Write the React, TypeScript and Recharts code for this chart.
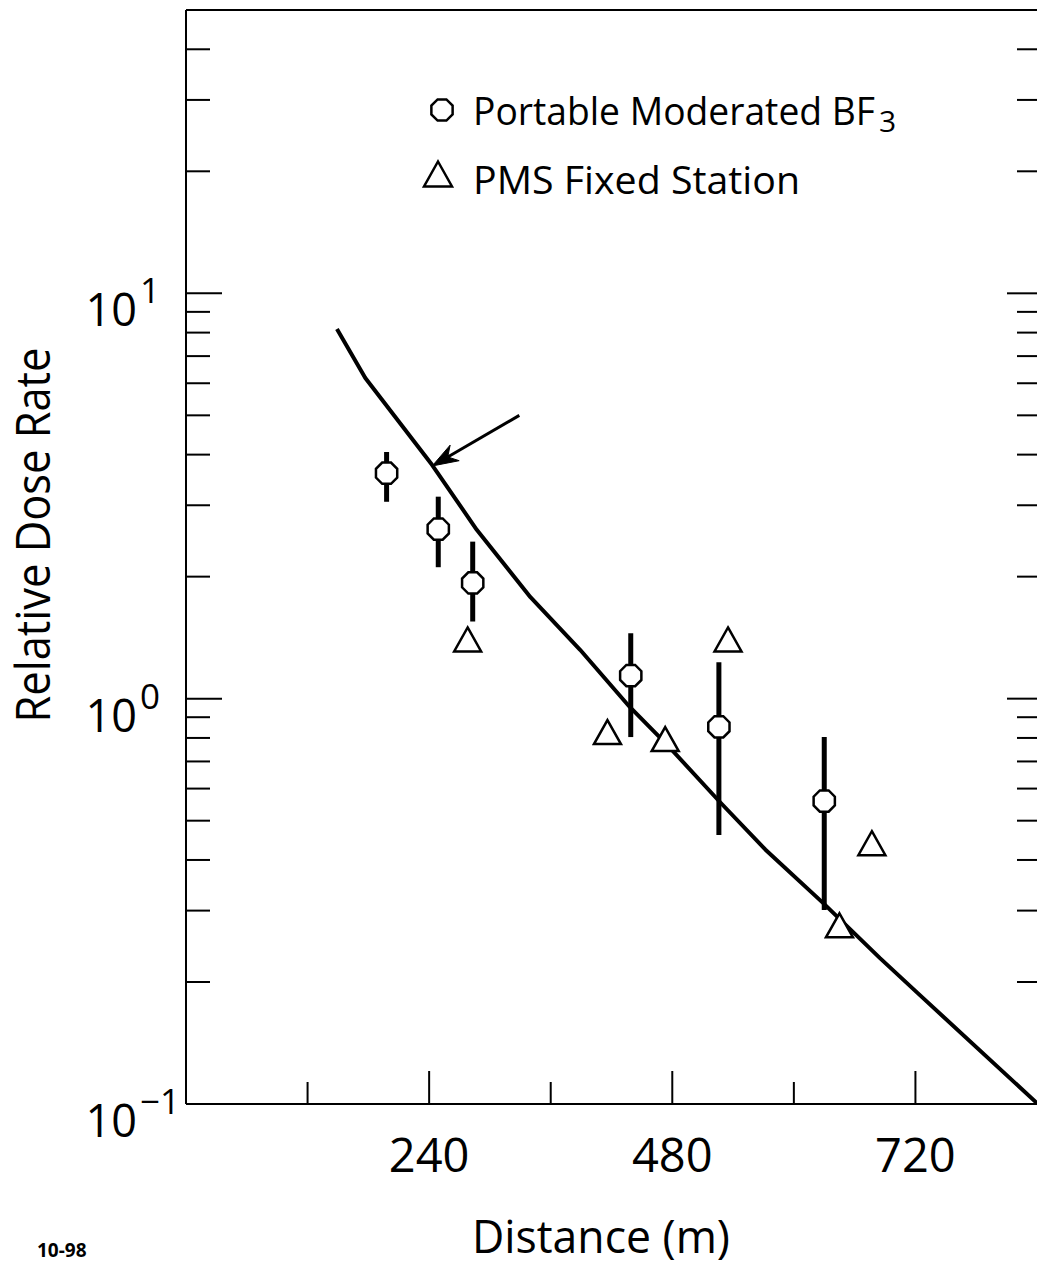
import React from 'react';
import { ComposedChart, Line, Scatter, ErrorBar, XAxis, YAxis, ReferenceLine, Legend, Label } from 'recharts';

const FONT = '"Open Sans", "Noto Sans", sans-serif';

// calculated curve
const curveDistance = [149, 177, 243, 287, 340, 389, 438, 475, 527, 572, 629, 685, 722, 840];
const curveDose = [8.17, 6.18, 3.77, 2.61, 1.78, 1.32, 0.954, 0.769, 0.556, 0.424, 0.313, 0.229, 0.188, 0.1005];

// portable moderated BF3 (value with low / high of the error bar)
const bf3Distance = [198, 249, 283, 439, 526, 630];
const bf3Dose = [3.6, 2.62, 1.93, 1.14, 0.852, 0.559];
const bf3Low = [3.06, 2.11, 1.55, 0.804, 0.461, 0.301];
const bf3High = [4.06, 3.15, 2.44, 1.45, 1.23, 0.804];

// PMS fixed station
const pmsDistance = [278, 416, 473, 535, 645, 677];
const pmsDose = [1.4, 0.827, 0.795, 1.4, 0.276, 0.44];

const xMajorTicks = [240, 480, 720];
const xMinorTicks = [120, 360, 600];
const yMajorTicks = [0.1, 1, 10];
const yMinorTicks = [0.2, 0.3, 0.4, 0.5, 0.6, 0.7, 0.8, 0.9, 2, 3, 4, 5, 6, 7, 8, 9, 20, 30, 40];

const legendLabels = [
  { main: 'Portable Moderated BF', sub: '3' },
  { main: 'PMS Fixed Station', sub: '' },
];

// arrow pointing at the curve
const arrowFrom = { x: 329, y: 5.0 };
const arrowTo = { x: 243, y: 3.75 };

const curveData = curveDistance.map((x, i) => ({ x, y: curveDose[i] }));
const bf3Data = bf3Distance.map((x, i) => ({
  x,
  y: bf3Dose[i],
  err: [bf3Dose[i] - bf3Low[i], bf3High[i] - bf3Dose[i]],
}));
const pmsData = pmsDistance.map((x, i) => ({ x, y: pmsDose[i] }));

const allYTicks = [...yMajorTicks, ...yMinorTicks].sort((a, b) => a - b);
const allXTicks = [...xMajorTicks, ...xMinorTicks].sort((a, b) => a - b);

function octagonPoints(cx: number, cy: number, r: number) {
  const pts: string[] = [];
  for (let k = 0; k < 8; k++) {
    const a = ((22.5 + 45 * k) * Math.PI) / 180;
    pts.push(`${cx + r * Math.cos(a)},${cy + r * Math.sin(a)}`);
  }
  return pts.join(' ');
}

function trianglePoints(cx: number, cy: number, w: number, h: number) {
  return `${cx},${cy - h / 2} ${cx + w / 2},${cy + h / 2} ${cx - w / 2},${cy + h / 2}`;
}

const OctagonDot = (props: any) => {
  const { cx, cy } = props;
  if (cx == null || cy == null) return null;
  return <polygon points={octagonPoints(cx, cy, 11.5)} fill="#fff" stroke="#000" strokeWidth={2.5} />;
};

const TriangleDot = (props: any) => {
  const { cx, cy } = props;
  if (cx == null || cy == null) return null;
  return <polygon points={trianglePoints(cx, cy, 27, 24)} fill="#fff" stroke="#000" strokeWidth={2.5} strokeLinejoin="miter" />;
};

const BottomTick = (props: any) => {
  const { x, y, payload } = props;
  const major = xMajorTicks.includes(payload.value);
  return (
    <g>
      <line x1={x} x2={x} y1={y} y2={y - (major ? 33 : 22)} stroke="#000" strokeWidth={2} />
      {major && (
        <text x={x} y={y + 68} textAnchor="middle" fontSize={47} fontFamily={FONT} fill="#000">
          {payload.value}
        </text>
      )}
    </g>
  );
};

const TopTick = (props: any) => {
  const { x, y, payload } = props;
  const major = xMajorTicks.includes(payload.value);
  return <line x1={x} x2={x} y1={y} y2={y + (major ? 36 : 23)} stroke="#000" strokeWidth={2} />;
};

const LeftTick = (props: any) => {
  const { x, y, payload } = props;
  const v = payload.value;
  const major = yMajorTicks.includes(v);
  const exp = Math.round(Math.log10(v));
  return (
    <g>
      {v > 0.1 && <line x1={x} x2={x + (major ? 36 : 24)} y1={y} y2={y} stroke="#000" strokeWidth={2} />}
      {major && (
        <g fontFamily={FONT} fill="#000">
          <text x={x - 49} y={y + 33} textAnchor="end" fontSize={45}>10</text>
          <text x={x - 46} y={y + 10} textAnchor="start" fontSize={35}>
            {exp < 0 ? `\u2212${-exp}` : exp}
          </text>
        </g>
      )}
    </g>
  );
};

const RightTick = (props: any) => {
  const { x, y, payload } = props;
  const v = payload.value;
  if (v <= 0.1) return null;
  const major = yMajorTicks.includes(v);
  return <line x1={x} x2={x - (major ? 30 : 20)} y1={y} y2={y} stroke="#000" strokeWidth={2} />;
};

const ArrowShape = (props: any) => {
  const { x1, y1, x2, y2 } = props;
  if ([x1, y1, x2, y2].some((v) => v == null)) return null;
  const dx = x1 - x2;
  const dy = y1 - y2;
  const len = Math.hypot(dx, dy);
  const ux = dx / len;
  const uy = dy / len;
  const px = -uy;
  const py = ux;
  const hl = 26;
  const hw = 9;
  const notch = 18;
  const head = [
    `${x2},${y2}`,
    `${x2 + ux * hl + px * hw},${y2 + uy * hl + py * hw}`,
    `${x2 + ux * notch},${y2 + uy * notch}`,
    `${x2 + ux * hl - px * hw},${y2 + uy * hl - py * hw}`,
  ].join(' ');
  return (
    <g>
      <line x1={x1} y1={y1} x2={x2 + ux * notch} y2={y2 + uy * notch} stroke="#000" strokeWidth={3} />
      <polygon points={head} fill="#000" stroke="#000" strokeWidth={1} />
    </g>
  );
};

const renderLegend = () => (
  <svg width={520} height={130} style={{ display: 'block', overflow: 'visible' }}>
    <polygon points={octagonPoints(32, 30, 11.5)} fill="#fff" stroke="#000" strokeWidth={2.5} />
    <text x={63} y={45} fontSize={38} fontFamily={FONT} fill="#000">
      <tspan textLength={402} lengthAdjust="spacingAndGlyphs">{legendLabels[0].main}</tspan>
      <tspan dx={4} dy={7} fontSize={30}>{legendLabels[0].sub}</tspan>
    </text>
    <polygon points={trianglePoints(28, 94, 28, 25)} fill="#fff" stroke="#000" strokeWidth={2.5} />
    <text x={63} y={114} fontSize={38} fontFamily={FONT} fill="#000" textLength={327} lengthAdjust="spacingAndGlyphs">
      {legendLabels[1].main}
    </text>
  </svg>
);

export default function App() {
  return (
    <div style={{ position: 'absolute', left: 0, top: 0, width: 1037, height: 1268, overflow: 'hidden', background: '#fff' }}>
      <ComposedChart width={1038} height={1268} margin={{ top: 0, right: 0, bottom: 0, left: 0 }}>
        <XAxis
          xAxisId="main"
          dataKey="x"
          type="number"
          orientation="bottom"
          domain={[0, 840]}
          allowDataOverflow
          ticks={allXTicks}
          interval={0}
          height={164}
          tickSize={0}
          tickMargin={0}
          tickLine={false}
          axisLine={{ stroke: '#000', strokeWidth: 2 }}
          tick={BottomTick}
        >
          <Label
            content={() => (
              <text x={601} y={1253} textAnchor="middle" fontSize={45} fontFamily={FONT} fill="#000" textLength={258} lengthAdjust="spacingAndGlyphs">
                Distance (m)
              </text>
            )}
          />
          <Label
            content={() => (
              <text x={37} y={1257} fontSize={19} fontWeight={700} fontFamily={FONT} fill="#000">
                10-98
              </text>
            )}
          />
        </XAxis>
        <XAxis
          xAxisId="top"
          type="number"
          orientation="top"
          domain={[0, 840]}
          allowDataOverflow
          ticks={allXTicks}
          interval={0}
          height={10}
          tickSize={0}
          tickMargin={0}
          tickLine={false}
          axisLine={{ stroke: '#000', strokeWidth: 2 }}
          tick={TopTick}
        />
        <YAxis
          yAxisId="main"
          type="number"
          scale="log"
          orientation="left"
          domain={[0.1, 50]}
          allowDataOverflow
          ticks={allYTicks}
          interval={0}
          width={186}
          tickSize={0}
          tickMargin={0}
          tickLine={false}
          axisLine={{ stroke: '#000', strokeWidth: 2 }}
          tick={LeftTick}
        >
          <Label
            content={() => (
              <text
                x={50}
                y={535}
                transform="rotate(-90, 50, 535)"
                textAnchor="middle"
                fontSize={48}
                fontFamily={FONT}
                fill="#000"
                textLength={375}
                lengthAdjust="spacingAndGlyphs"
              >
                Relative Dose Rate
              </text>
            )}
          />
        </YAxis>
        <YAxis
          yAxisId="right"
          type="number"
          scale="log"
          orientation="right"
          domain={[0.1, 50]}
          allowDataOverflow
          ticks={allYTicks}
          interval={0}
          width={1}
          tickSize={0}
          tickMargin={0}
          tickLine={false}
          axisLine={false}
          tick={RightTick}
        />
        <Legend
          layout="vertical"
          align="center"
          verticalAlign="middle"
          content={renderLegend}
          wrapperStyle={{ left: 410, top: 80, width: 520, height: 130 }}
        />
        <Line
          xAxisId="main"
          yAxisId="main"
          data={curveData}
          dataKey="y"
          type="linear"
          stroke="#000"
          strokeWidth={4}
          strokeLinejoin="round"
          dot={false}
          activeDot={false}
          legendType="none"
          isAnimationActive={false}
        />
        <ReferenceLine
          xAxisId="main"
          yAxisId="main"
          segment={[
            { x: arrowFrom.x, y: arrowFrom.y },
            { x: arrowTo.x, y: arrowTo.y },
          ]}
          shape={ArrowShape}
          ifOverflow="visible"
        />
        <Scatter
          name="Portable Moderated BF3"
          xAxisId="main"
          yAxisId="main"
          data={bf3Data}
          dataKey="y"
          shape={OctagonDot}
          isAnimationActive={false}
        >
          <ErrorBar dataKey="err" direction="y" width={0} stroke="#000" strokeWidth={5} isAnimationActive={false} />
        </Scatter>
        <Scatter
          name="PMS Fixed Station"
          xAxisId="main"
          yAxisId="main"
          data={pmsData}
          dataKey="y"
          shape={TriangleDot}
          isAnimationActive={false}
        />
      </ComposedChart>
    </div>
  );
}
